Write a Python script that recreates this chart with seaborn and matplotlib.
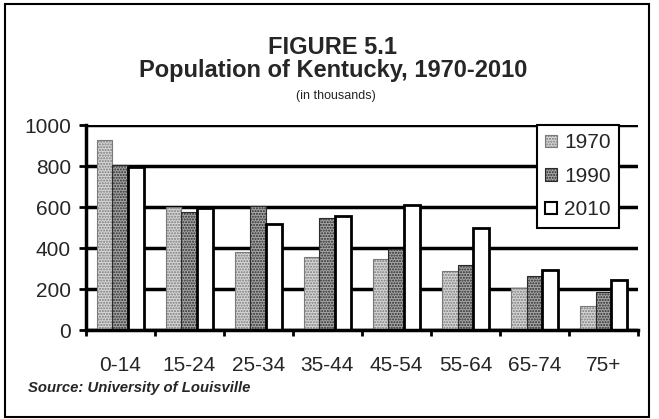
import numpy as np
import pandas as pd
import matplotlib
matplotlib.use("Agg")
import matplotlib.pyplot as plt
import matplotlib.patches as mpatches
import seaborn as sns

# age groups and population (thousands)
age_groups = ['0-14', '15-24', '25-34', '35-44', '45-54', '55-64', '65-74', '75+']
pop_1970 = [927, 599, 382, 355, 345, 289, 203, 117]
pop_1990 = [805, 577, 606, 548, 394, 317, 265, 187]
pop_2010 = [797, 594, 517, 556, 610, 496, 293, 244]
years = ['1970', '1990', '2010']
y_ticks = [0, 200, 400, 600, 800, 1000]

W, H = 659, 419

sns.set_theme(style='white')
plt.rcParams['font.family'] = ['Liberation Sans', 'DejaVu Sans']
plt.rcParams['hatch.linewidth'] = 1.0

df = pd.DataFrame({
    'group': age_groups * 3,
    'year': np.repeat(years, len(age_groups)),
    'value': pop_1970 + pop_1990 + pop_2010,
})

# bar looks: light stipple, dark stipple, plain white
styles = {
    '1970': dict(facecolor='#d6d6d6', edgecolor='#7a7a7a', hatch='......', linewidth=0.8),
    '1990': dict(facecolor='#a6a6a6', edgecolor='#2a2a2a', hatch='......', linewidth=0.8),
    '2010': dict(facecolor='white', edgecolor='black', hatch=None, linewidth=2.0),
}

fig = plt.figure(figsize=(W / 100, H / 100), dpi=100)
ax_left, ax_right, ax_top, ax_bottom = 85.5, 638, 125, 330
ax = fig.add_axes([ax_left / W, 1 - ax_bottom / H,
                   (ax_right - ax_left) / W, (ax_bottom - ax_top) / H])

sns.barplot(data=df, x='group', y='value', hue='year', order=age_groups,
            hue_order=years, width=0.68, palette=['#d6d6d6', '#a6a6a6', 'white'],
            legend=False, ax=ax)

for cont, yr in zip(ax.containers, years):
    st = styles[yr]
    for bar in cont:
        bar.set_facecolor(st['facecolor'])
        bar.set_edgecolor(st['edgecolor'])
        bar.set_linewidth(st['linewidth'])
        if st['hatch']:
            bar.set_hatch(st['hatch'])

ax.set_ylim(0, 1000)
ax.set_xlim(-0.5, len(age_groups) - 0.5)
ax.set_yticks(y_ticks)
ax.set_xticks(range(len(age_groups)), labels=age_groups)
ax.set_xticks(np.arange(-0.5, len(age_groups)), minor=True)
ax.set_xlabel('')
ax.set_ylabel('')

ax.yaxis.grid(True, color='black', linewidth=2.5)
ax.xaxis.grid(False)
ax.set_axisbelow(True)

for side in ['top', 'right']:
    ax.spines[side].set_visible(False)
for side in ['left', 'bottom']:
    ax.spines[side].set_linewidth(2.5)
    ax.spines[side].set_color('black')

ax.tick_params(axis='y', which='major', direction='out', length=5, width=2,
               color='black', labelsize=15, pad=5.5, left=True)
ax.tick_params(axis='x', which='major', length=0, labelsize=15, pad=18.5)
ax.tick_params(axis='x', which='minor', direction='out', length=4, width=2,
               color='black', bottom=True)

# legend (handles mirror the bar styles)
handles = [mpatches.Patch(facecolor=styles[y]['facecolor'],
                          edgecolor=styles[y]['edgecolor'],
                          hatch=styles[y]['hatch'],
                          linewidth=1.5 if y == '2010' else 0.8,
                          label=y) for y in years]
leg = fig.legend(handles=handles, loc='upper right',
                 bbox_to_anchor=(619 / W, 1 - 125 / H),
                 bbox_transform=fig.transFigure, fontsize=15,
                 handlelength=0.55, handleheight=0.55, handletextpad=0.35,
                 borderpad=0.4, labelspacing=0.7, borderaxespad=0,
                 fancybox=False, framealpha=1, frameon=True)
leg.get_frame().set_edgecolor('black')
leg.get_frame().set_linewidth(1.5)

# titles
fig.text(333 / W, 1 - 47 / H, 'FIGURE 5.1', ha='center', va='center',
         fontsize=17, fontweight='bold')
fig.text(333 / W, 1 - 70 / H, 'Population of Kentucky, 1970-2010',
         ha='center', va='center', fontsize=17, fontweight='bold')
fig.text(336 / W, 1 - 96 / H, '(in thousands)', ha='center', va='center',
         fontsize=9)
fig.text(28 / W, 1 - 388 / H, 'Source: University of Louisville',
         ha='left', va='center', fontsize=10.7, fontweight='bold',
         fontstyle='italic')

# outer frame
fig.patches.append(mpatches.Rectangle((5 / W, 1 - 417 / H), 644 / W, 413 / H,
                                      transform=fig.transFigure, fill=False,
                                      edgecolor='black', linewidth=1.5))

fig.savefig('out.png', dpi=100)
